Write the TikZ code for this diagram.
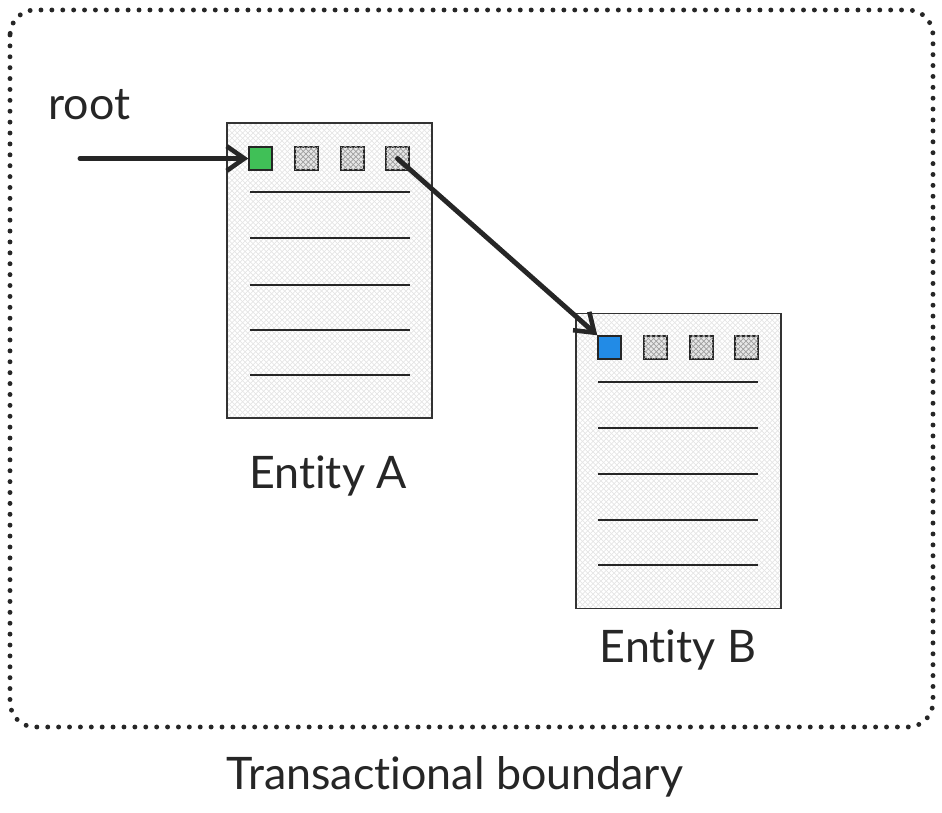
\documentclass[tikz,border=0pt]{standalone}
\usepackage{fontspec}
\setmainfont{Lato}[Ligatures={NoCommon}]
\usetikzlibrary{positioning,patterns,arrows.meta}
\tikzset{
        label_text/.style={inner sep=0pt, font=\fontsize{25.5}{30}\selectfont, text=black!85},
        % Entity pages
        entity/.style={rectangle, draw=black!80, line width=0.7pt, pattern=crosshatch, pattern color=gray!20, minimum width=4.1cm, minimum height=5.9cm, inner sep=0pt},
        % Reference cells
        cell_base/.style={rectangle, draw=black!85, line width=0.8pt, minimum size=0.46cm, inner sep=0pt},
        cell/.style={cell_base, fill=gray!18, postaction={pattern=crosshatch, pattern color=gray!75}},
        cell_root/.style={cell_base, fill={rgb,255:red,64;green,192;blue,87}},
        cell_target/.style={cell_base, fill={rgb,255:red,34;green,139;blue,230}},
        % Rows of an entity
        row/.style={draw=black!85, line width=0.8pt},
        % Pointers
        link/.style={-{Straight Barb[length=10pt, width=14pt, line width=2.6pt]}, line width=2.8pt, black!85, line cap=round},
        % Boundary
        boundary/.style={draw=black!85, line width=2.8pt, line cap=round, dash pattern=on 0pt off 6.2pt, rounded corners=0.5cm}
}

\begin{document}
\begin{tikzpicture}[x=0.02cm, y=-0.02cm]
    \useasboundingbox (0,0) rectangle (942,813);
    \draw[boundary] (10,10) rectangle (933,727);

    % Entity A
    \node[entity] (entA) at (329.5,270.5) {};
    \node[cell_root] (a1) at (260.5,158.5) {};
    \foreach \i/\x in {2/306.5, 3/352.5, 4/397.5}
        \node[cell] (a\i) at (\x,158.5) {};
    \foreach \y in {192, 238, 285, 330, 375}
        \draw[row] (250,\y) -- (410,\y);
    \node[label_text] (labA) at (328,476) {Entity A};

    % Entity B
    \node[entity] (entB) at (678.5,461) {};
    \node[cell_target] (b1) at (609.5,347.5) {};
    \foreach \i/\x in {2/655.5, 3/701.5, 4/746.5}
        \node[cell] (b\i) at (\x,347.5) {};
    \foreach \y in {382, 428, 474, 520, 565}
        \draw[row] (598,\y) -- (758,\y);
    \node[label_text] (labB) at (678,650) {Entity B};

    % root pointer
    \node[label_text, anchor=west] (root) at (48,105) {root};
    \coordinate (rootin) at (80,158.5);
    \draw[link] (rootin) -- (a1.west);

    % reference A -> B
    \draw[link] (a4.center) -- (b1.north west);

    \node[label_text] (trans) at (455,777) {Transactional boundary};
\end{tikzpicture}
\end{document}
